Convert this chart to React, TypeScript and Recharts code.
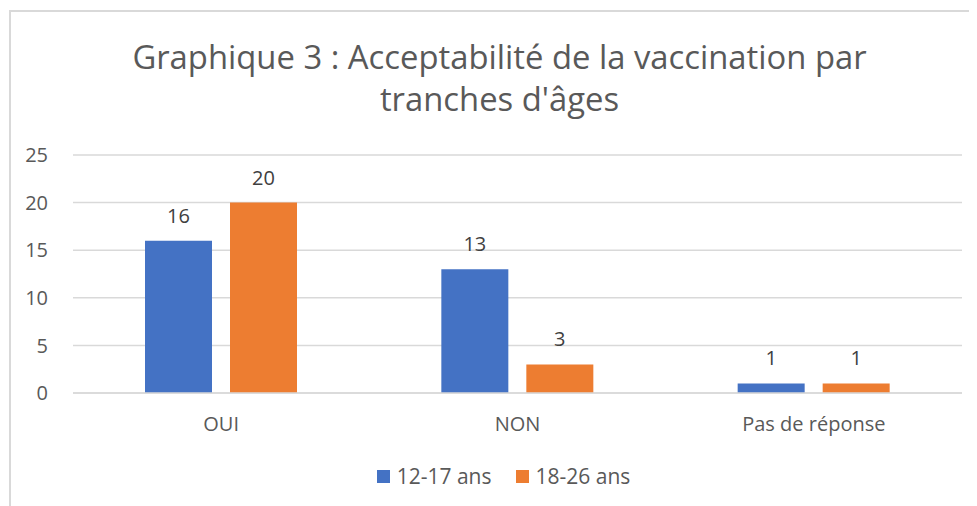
import React from 'react';
import { BarChart, Bar, XAxis, YAxis, CartesianGrid, LabelList } from 'recharts';

const categories = ['OUI', 'NON', 'Pas de réponse'];
const serie1217 = [16, 13, 1];
const serie1826 = [20, 3, 1];
const yTicks = [0, 5, 10, 15, 20, 25];
const seriesNames = ['12-17 ans', '18-26 ans'];
const titleLines = ["Graphique 3 : Acceptabilité de la vaccination par", "tranches d'âges"];

const data = categories.map((c, i) => ({ name: c, a: serie1217[i], b: serie1826[i] }));

const FONT = '"Open Sans", sans-serif';
const BLUE = '#4472C4';
const ORANGE = '#ED7D31';

export default function App() {
  return (
    <div style={{ position: 'relative', width: 969, height: 498, background: '#fff', overflow: 'hidden' }}>
      <div style={{ position: 'absolute', left: 1, top: 2, width: 1000, height: 600, borderLeft: '2px solid #d9d9d9', borderTop: '2px solid #d9d9d9' }} />
      <div style={{ position: 'absolute', left: 0, top: 28, width: 969, textAlign: 'center', fontFamily: FONT, fontSize: 32.8, color: '#595959', lineHeight: '42px', fontWeight: 400 }}>
        <div style={{ paddingLeft: 14 }}>{titleLines[0]}</div>
        <div style={{ paddingLeft: 14 }}>{titleLines[1]}</div>
      </div>
      <div style={{ position: 'absolute', left: 0, top: 0 }}>
        <BarChart width={969} height={498} data={data} margin={{ top: 147, right: 15, bottom: 83, left: 5 }} barGap={18} barSize={67}>
          <CartesianGrid vertical={false} stroke="#d9d9d9" strokeWidth={1.5} />
          <XAxis dataKey="name" axisLine={{ stroke: '#d9d9d9', strokeWidth: 1.5 }} tickLine={false} tickMargin={18} height={30}
            tick={{ fill: '#595959', fontSize: 20, fontFamily: FONT }} />
          <YAxis domain={[0, 25]} ticks={yTicks} axisLine={false} tickLine={false} width={60} tickMargin={19}
            tick={{ fill: '#595959', fontSize: 20, fontFamily: FONT }} />
          <Bar dataKey="a" name={seriesNames[0]} fill={BLUE} isAnimationActive={false}>
            <LabelList dataKey="a" position="top" offset={18} fill="#404040" fontSize={20} fontFamily={FONT} />
          </Bar>
          <Bar dataKey="b" name={seriesNames[1]} fill={ORANGE} isAnimationActive={false}>
            <LabelList dataKey="b" position="top" offset={18} fill="#404040" fontSize={20} fontFamily={FONT} />
          </Bar>
        </BarChart>
      </div>
      <div style={{ position: 'absolute', left: 0, top: 454, width: 969, height: 28, paddingLeft: 22, boxSizing: 'border-box', display: 'flex', justifyContent: 'center', alignItems: 'center', fontFamily: FONT, fontSize: 21, color: '#595959' }}>
        {[BLUE, ORANGE].map((col, i) => (
          <div key={i} style={{ display: 'flex', alignItems: 'center', marginRight: i === 0 ? 24 : 0 }}>
            <span style={{ width: 13, height: 13, background: col, display: 'inline-block', marginRight: 7 }} />
            <span>{seriesNames[i]}</span>
          </div>
        ))}
      </div>
    </div>
  );
}
